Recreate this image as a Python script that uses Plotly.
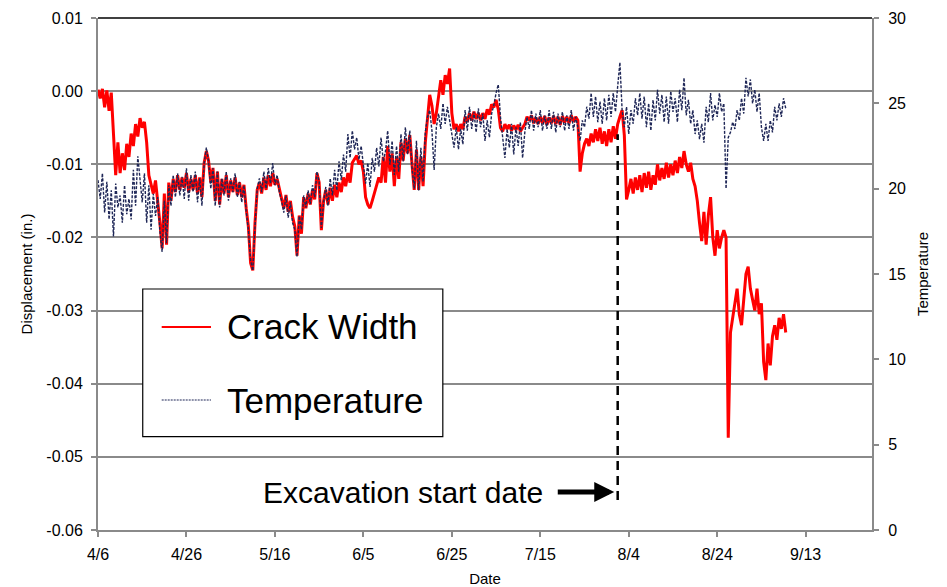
import pandas as pd
import plotly.graph_objects as go

# ---------------- data ----------------
start_date = "2011-04-06"
axis_end_date = "2011-09-28"
excavation_date = "2011-08-01 12:00"

x_tick_dates = ["2011-04-06", "2011-04-26", "2011-05-16", "2011-06-05", "2011-06-25",
                "2011-07-15", "2011-08-04", "2011-08-24", "2011-09-13"]
x_tick_labels = ["4/6", "4/26", "5/16", "6/5", "6/25", "7/15", "8/4", "8/24", "9/13"]

left_tick_values = [-0.06, -0.05, -0.04, -0.03, -0.02, -0.01, 0.0, 0.01]
left_tick_labels = ["-0.06", "-0.05", "-0.04", "-0.03", "-0.02", "-0.01", "0.00", "0.01"]
right_tick_values = [0, 5, 10, 15, 20, 25, 30]

# readings every 12 hours starting 4/6 (in.)
crack_width = [
    0.0002, -0.0010, 0.0003, -0.0022, 0.0001, -0.0027, -0.0002, -0.0060, -0.0115, -0.0070,
    -0.0112, -0.0085, -0.0108, -0.0072, -0.0090, -0.0058, -0.0075, -0.0045, -0.0062, -0.0037,
    -0.0050, -0.0042, -0.0070, -0.0115, -0.0128, -0.0140, -0.0122, -0.0148, -0.0180, -0.0215,
    -0.0140, -0.0210, -0.0125, -0.0150, -0.0120, -0.0138, -0.0115, -0.0135, -0.0118, -0.0132,
    -0.0112, -0.0138, -0.0120, -0.0135, -0.0115, -0.0140, -0.0118, -0.0145, -0.0098, -0.0082,
    -0.0095, -0.0125, -0.0105, -0.0150, -0.0110, -0.0155, -0.0120, -0.0140, -0.0115, -0.0145,
    -0.0122, -0.0138, -0.0118, -0.0142, -0.0125, -0.0145, -0.0128, -0.0160, -0.0185, -0.0235,
    -0.0245, -0.0180, -0.0135, -0.0125, -0.0140, -0.0118, -0.0135, -0.0115, -0.0130, -0.0112,
    -0.0128, -0.0120, -0.0135, -0.0145, -0.0160, -0.0142, -0.0165, -0.0150, -0.0172, -0.0185,
    -0.0225, -0.0170, -0.0195, -0.0145, -0.0160, -0.0140, -0.0155, -0.0135, -0.0148, -0.0112,
    -0.0125, -0.0190, -0.0150, -0.0135, -0.0155, -0.0132, -0.0150, -0.0128, -0.0145, -0.0125,
    -0.0138, -0.0118, -0.0130, -0.0112, -0.0125, -0.0098, -0.0092, -0.0088, -0.0100, -0.0095,
    -0.0110, -0.0145, -0.0155, -0.0160, -0.0150, -0.0140, -0.0128, -0.0118, -0.0125, -0.0090,
    -0.0125, -0.0075, -0.0110, -0.0085, -0.0130, -0.0090, -0.0120, -0.0070, -0.0095, -0.0065,
    -0.0085, -0.0060, -0.0100, -0.0135, -0.0080, -0.0135, -0.0090, -0.0130, -0.0070, -0.0040,
    -0.0005, -0.0020, -0.0045, -0.0030, -0.0010, 0.0015, -0.0005, 0.0022, 0.0010, 0.0031,
    -0.0030, -0.0052, -0.0045, -0.0055, -0.0045, -0.0052, -0.0035, -0.0042, -0.0030, -0.0040,
    -0.0028, -0.0038, -0.0030, -0.0040, -0.0030, -0.0038, -0.0025, -0.0032, -0.0018, -0.0022,
    -0.0012, -0.0025, -0.0050, -0.0055, -0.0045, -0.0052, -0.0046, -0.0054, -0.0047, -0.0053,
    -0.0046, -0.0055, -0.0050, -0.0045, -0.0035, -0.0040, -0.0033, -0.0044, -0.0036, -0.0045,
    -0.0035, -0.0044, -0.0034, -0.0046, -0.0036, -0.0044, -0.0034, -0.0045, -0.0035, -0.0046,
    -0.0034, -0.0043, -0.0035, -0.0044, -0.0033, -0.0042, -0.0035, -0.0040, -0.0110, -0.0085,
    -0.0072, -0.0065, -0.0075, -0.0058, -0.0070, -0.0052, -0.0068, -0.0050, -0.0072, -0.0055,
    -0.0075, -0.0052, -0.0070, -0.0048, -0.0065, -0.0045, -0.0035, -0.0026, -0.0060, -0.0148,
    -0.0135, -0.0120, -0.0140, -0.0118, -0.0135, -0.0115, -0.0138, -0.0112, -0.0132, -0.0110,
    -0.0135, -0.0115, -0.0128, -0.0100, -0.0122, -0.0105, -0.0120, -0.0098, -0.0118, -0.0100,
    -0.0115, -0.0095, -0.0112, -0.0090, -0.0105, -0.0082, -0.0100, -0.0110, -0.0098, -0.0120,
    -0.0130, -0.0150, -0.0180, -0.0205, -0.0165, -0.0210, -0.0170, -0.0145, -0.0200, -0.0225,
    -0.0190, -0.0215, -0.0200, -0.0190, -0.0200, -0.0474, -0.0330, -0.0310, -0.0295, -0.0270,
    -0.0305, -0.0320, -0.0285, -0.0250, -0.0240, -0.0270, -0.0285, -0.0300, -0.0270, -0.0305,
    -0.0290, -0.0370, -0.0395, -0.0345, -0.0375, -0.0335, -0.0320, -0.0340, -0.0310, -0.0325,
    -0.0305, -0.0330,
]

temperature = [
    20.5, 19.4, 20.9, 18.6, 20.4, 18.2, 19.9, 17.2, 20.3, 18.9,
    19.6, 18.0, 20.2, 18.5, 19.4, 18.2, 21.1, 19.0, 21.9, 20.4,
    19.2, 20.9, 18.0, 20.2, 17.6, 19.7, 18.4, 19.5, 17.5, 16.3,
    19.3, 16.8, 20.2, 19.0, 20.8, 19.5, 20.9, 19.6, 20.7, 19.4,
    21.2, 19.3, 20.8, 19.8, 21.0, 19.2, 20.6, 19.0, 21.5, 22.4,
    21.6, 20.0, 21.2, 19.0, 21.0, 18.9, 20.6, 19.6, 21.0, 19.3,
    20.6, 19.8, 20.9, 19.5, 20.4, 19.2, 20.2, 18.7, 17.6, 15.8,
    15.2, 17.8, 20.0, 20.6, 19.8, 21.0, 20.0, 21.2, 20.3, 21.5,
    20.2, 20.8, 19.8, 19.3, 18.6, 19.6, 18.3, 19.2, 18.0, 17.6,
    16.0, 18.4, 17.6, 19.6, 18.9, 19.9, 19.1, 20.2, 19.5, 21.0,
    20.4, 17.7, 19.2, 20.1, 19.0, 20.6, 19.6, 21.1, 19.9, 21.6,
    20.5, 22.0, 21.0, 23.2, 21.8, 23.4, 22.3, 23.0, 21.7, 22.5,
    21.2, 20.3, 21.5, 20.1, 21.8, 21.0, 22.4, 21.3, 23.0, 21.6,
    22.2, 23.4, 21.4, 22.8, 20.8, 22.5, 21.0, 23.2, 21.6, 23.6,
    22.0, 23.4, 21.2, 20.0, 22.8, 19.9, 22.4, 20.4, 23.3, 24.2,
    24.6, 23.4, 21.1, 23.6, 24.4, 23.5, 25.0, 23.8, 24.8, 24.0,
    23.4, 22.4, 23.6, 22.3, 23.5, 22.6, 24.6, 23.4, 24.8, 23.5,
    24.5, 23.3, 24.7, 23.6, 24.4, 22.8, 24.0, 23.0, 24.4, 24.9,
    25.6, 26.1, 24.2, 23.0, 21.8, 23.5, 22.4, 23.8, 22.0, 23.6,
    22.5, 23.9, 21.8, 23.3, 24.2, 23.5, 24.6, 23.4, 24.4, 23.6,
    24.6, 23.4, 24.3, 23.5, 24.6, 23.5, 24.5, 23.3, 24.4, 23.6,
    24.5, 23.4, 24.3, 23.5, 24.6, 23.4, 24.2, 23.6, 22.8, 24.0,
    23.6, 24.8, 24.1, 25.6, 24.2, 25.4, 23.9, 25.1, 23.8, 25.3,
    24.0, 25.5, 24.2, 25.6, 24.5, 26.0, 27.4, 24.6, 23.6, 24.8,
    23.2, 24.6, 23.8, 25.3, 24.3, 25.6, 24.1, 25.4, 23.6, 25.0,
    23.4, 25.2, 24.0, 25.8, 24.4, 25.5, 23.9, 25.4, 23.8, 25.7,
    24.5, 25.3, 23.9, 25.8, 24.6, 26.5, 24.3, 25.2, 23.8, 24.6,
    23.2, 24.0, 22.9, 23.8, 22.7, 24.8, 23.9, 25.6, 24.0, 24.9,
    24.2, 25.6, 24.5, 25.0, 20.0, 23.0, 23.3, 23.9, 23.5, 24.6,
    24.0, 25.3, 24.4, 26.5, 25.4, 26.4, 25.0, 25.8, 24.5, 25.6,
    23.6, 22.8, 23.8, 22.8, 24.0, 23.3, 24.8, 24.0, 25.0, 24.2,
    25.3, 24.7,
]

sample_times = pd.date_range(start_date, periods=len(crack_width), freq="12h")

# excavation marker extent (left-axis units)
marker_bottom = -0.0559
marker_top = -0.0059

# ---------------- styling ----------------
FONT = "Liberation Sans, Arial, sans-serif"
GRAY = "#8a8a8a"
RED = "#ff0000"
NAVY = "#1f2757"

fig = go.Figure()
fig.add_trace(go.Scatter(
    x=sample_times, y=crack_width, mode="lines", name="Crack Width",
    line=dict(color=RED, width=3), yaxis="y"))
fig.add_trace(go.Scatter(
    x=sample_times, y=temperature, mode="lines", name="Temperature",
    line=dict(color=NAVY, width=1.4, dash="3px,1.5px"), yaxis="y2"))

fig.update_layout(
    width=947, height=587,
    margin=dict(l=98, r=75, t=18, b=57, autoexpand=False),
    paper_bgcolor="white", plot_bgcolor="white",
    showlegend=False,
    font=dict(family=FONT, color="black", size=16),
    xaxis=dict(
        type="date", range=[start_date, axis_end_date], automargin=False,
        tickmode="array", tickvals=x_tick_dates, ticktext=x_tick_labels,
        ticks="outside", ticklen=5, tickwidth=2, tickcolor=GRAY,
        showline=True, linecolor=GRAY, linewidth=2,
        showgrid=False, zeroline=False,
        tickfont=dict(size=16), ticklabelstandoff=4,
        title=dict(text="Date", font=dict(size=15), standoff=12),
    ),
    yaxis=dict(
        range=[-0.06, 0.01], automargin=False,
        tickmode="array", tickvals=left_tick_values, ticktext=left_tick_labels,
        ticks="outside", ticklen=5, tickwidth=2, tickcolor=GRAY,
        showline=True, linecolor=GRAY, linewidth=2,
        showgrid=True, gridcolor=GRAY, gridwidth=2, zeroline=False,
        tickfont=dict(size=16), ticklabelstandoff=5,
        title=dict(text="Displacement (in.)", font=dict(size=15), standoff=10),
    ),
    yaxis2=dict(
        overlaying="y", side="right", range=[0, 30], automargin=False,
        tickmode="array", tickvals=right_tick_values,
        ticks="outside", ticklen=5, tickwidth=2, tickcolor=GRAY,
        showline=True, linecolor=GRAY, linewidth=2,
        showgrid=False, zeroline=False,
        tickfont=dict(size=16), ticklabelstandoff=6,
        title=dict(text="Temperature", font=dict(size=15), standoff=12),
    ),
)

# top border line
fig.add_shape(type="line", xref="paper", yref="paper", x0=0, x1=1, y0=1, y1=1,
              line=dict(color="black", width=1.5))

# excavation start marker
fig.add_shape(type="line", xref="x", yref="y",
              x0=excavation_date, x1=excavation_date, y0=marker_bottom, y1=marker_top,
              line=dict(color="black", width=2.5, dash="9px,6px"))
fig.add_annotation(xref="paper", yref="paper", x=0.5777, y=0.0742,
                   xanchor="right", yanchor="middle", showarrow=False,
                   text="Excavation start date", font=dict(size=30, family=FONT))
fig.add_annotation(xref="paper", yref="paper", x=0.667, y=0.0742,
                   ax=-58, ay=0, showarrow=True, text="",
                   arrowhead=2, arrowsize=0.8, arrowwidth=5, arrowcolor="black")

# legend box
fig.add_shape(type="rect", xref="paper", yref="paper",
              x0=0.0578, x1=0.4455, y0=0.1822, y1=0.4707,
              line=dict(color="black", width=1.2), fillcolor="white", layer="above")
fig.add_shape(type="line", xref="paper", yref="paper",
              x0=0.0823, x1=0.1460, y0=0.3965, y1=0.3965,
              line=dict(color=RED, width=2))
fig.add_shape(type="line", xref="paper", yref="paper",
              x0=0.0823, x1=0.1460, y0=0.2539, y1=0.2539,
              line=dict(color=NAVY, width=1.2, dash="2px,1px"))
fig.add_annotation(xref="paper", yref="paper", x=0.1641, y=0.3965,
                   xanchor="left", yanchor="middle", showarrow=False,
                   text="Crack Width", font=dict(size=35, family=FONT))
fig.add_annotation(xref="paper", yref="paper", x=0.1641, y=0.2539,
                   xanchor="left", yanchor="middle", showarrow=False,
                   text="Temperature", font=dict(size=35, family=FONT))

fig.write_html("out.html")
